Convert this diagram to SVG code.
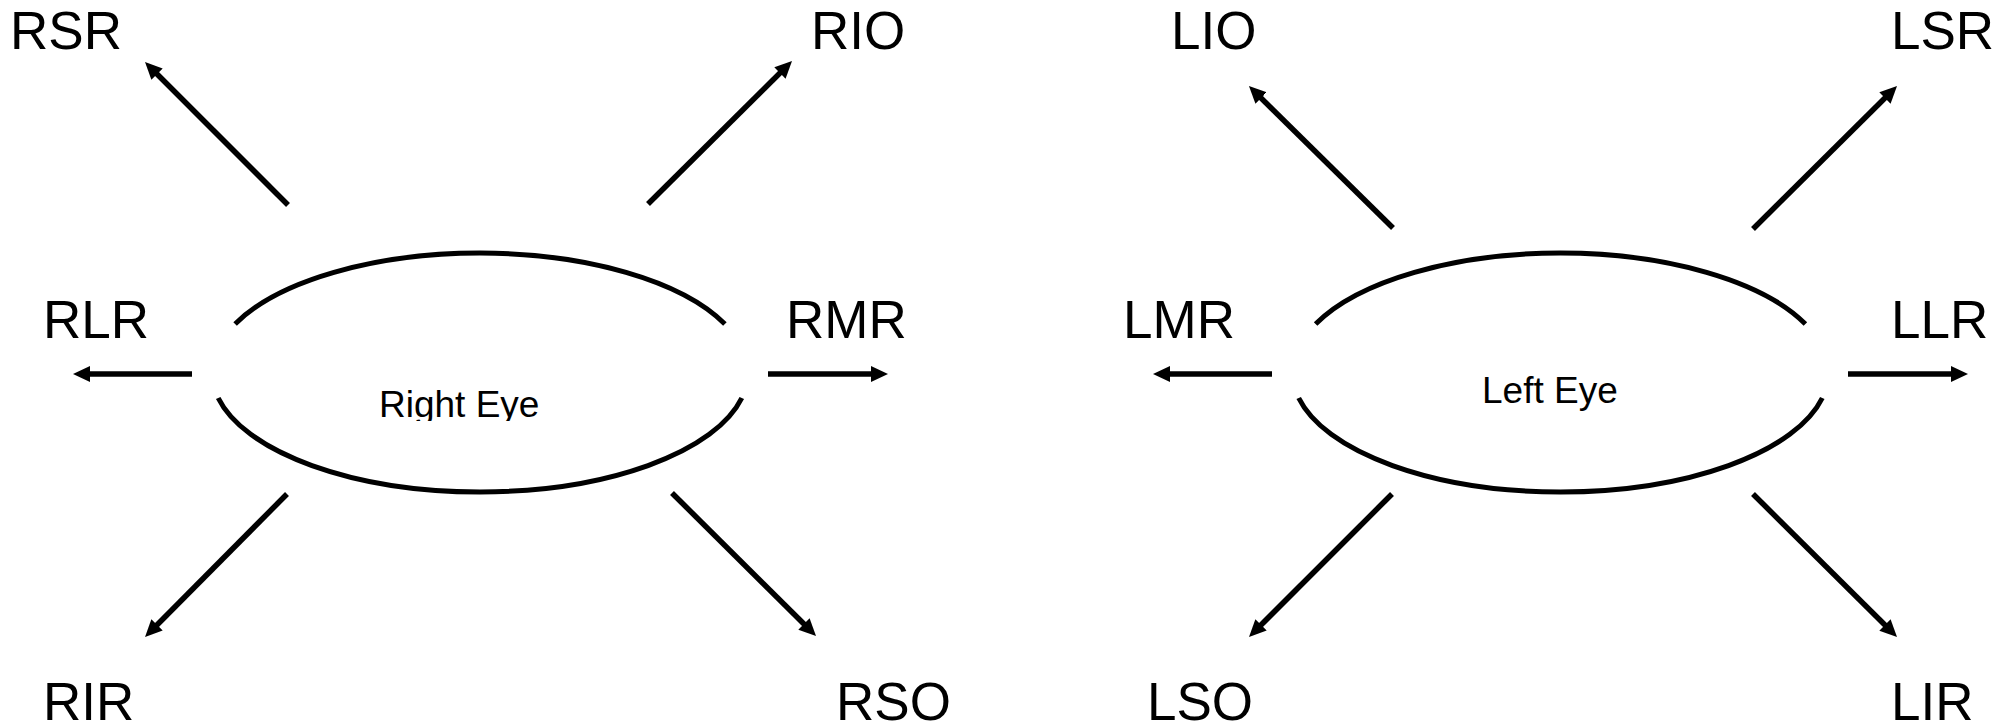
<svg xmlns="http://www.w3.org/2000/svg" width="2015" height="727" viewBox="0 0 2015 727">
<style>
.lbl{font-family:"Liberation Sans",Arial,sans-serif;font-size:53px;fill:#000}
.eye{font-family:"Liberation Sans",Arial,sans-serif;font-size:37px;fill:#000}
.ell{fill:none;stroke:#000;stroke-width:5}
.arr{fill:none;stroke:#000;stroke-width:5.5;marker-end:url(#ah)}
</style>
<defs>
<marker id="ah" markerUnits="userSpaceOnUse" markerWidth="18" markerHeight="16" viewBox="0 0 18 16" refX="5" refY="8" orient="auto">
<path d="M0,0 L17,8 L0,16 z" fill="#000"/>
</marker>
<clipPath id="rclip"><rect x="300" y="370" width="400" height="51"/></clipPath>
</defs>
<rect width="2015" height="727" fill="#fff"/>
<g id="right-eye">
<path class="ell" d="M235.1,324 A268,119.5 0 0 1 724.9,324"/>
<path class="ell" d="M218.2,398 A268,119.5 0 0 0 741.8,398"/>
<text class="eye" x="379" y="417" clip-path="url(#rclip)">Right Eye</text>
</g>
<g id="left-eye">
<path class="ell" d="M1315.6,324 A268,119.5 0 0 1 1805.4,324"/>
<path class="ell" d="M1298.7,398 A268,119.5 0 0 0 1822.3,398"/>
<text class="eye" x="1482" y="403">Left Eye</text>
</g>
<g id="RSR"><text class="lbl" x="10" y="49">RSR</text></g>
<g id="RIO"><text class="lbl" x="811" y="49">RIO</text></g>
<g id="RLR"><text class="lbl" x="43" y="338">RLR</text></g>
<g id="RMR"><text class="lbl" x="786" y="338">RMR</text></g>
<g id="RIR"><text class="lbl" x="43" y="720">RIR</text></g>
<g id="RSO"><text class="lbl" x="836" y="720">RSO</text></g>
<g id="LIO"><text class="lbl" x="1171" y="49">LIO</text></g>
<g id="LSR"><text class="lbl" x="1891" y="49">LSR</text></g>
<g id="LMR"><text class="lbl" x="1123" y="338">LMR</text></g>
<g id="LLR"><text class="lbl" x="1891" y="338">LLR</text></g>
<g id="LSO"><text class="lbl" x="1147" y="720">LSO</text></g>
<g id="LIR"><text class="lbl" x="1891" y="720">LIR</text></g>
<g id="connectors">
<line class="arr" x1="288" y1="205" x2="153.5" y2="70.5"/>
<line class="arr" x1="648" y1="204" x2="783.5" y2="69.5"/>
<line class="arr" x1="192" y1="374" x2="85" y2="374"/>
<line class="arr" x1="768" y1="374" x2="876" y2="374"/>
<line class="arr" x1="287" y1="494" x2="153.5" y2="628.5"/>
<line class="arr" x1="672" y1="493" x2="807.5" y2="627.5"/>
<line class="arr" x1="1393" y1="228" x2="1257.5" y2="94.5"/>
<line class="arr" x1="1753" y1="229" x2="1888.5" y2="94.5"/>
<line class="arr" x1="1272" y1="374" x2="1165" y2="374"/>
<line class="arr" x1="1848" y1="374" x2="1956" y2="374"/>
<line class="arr" x1="1392" y1="494" x2="1257.5" y2="628.5"/>
<line class="arr" x1="1753" y1="494" x2="1888.5" y2="628.5"/>
</g>
</svg>
